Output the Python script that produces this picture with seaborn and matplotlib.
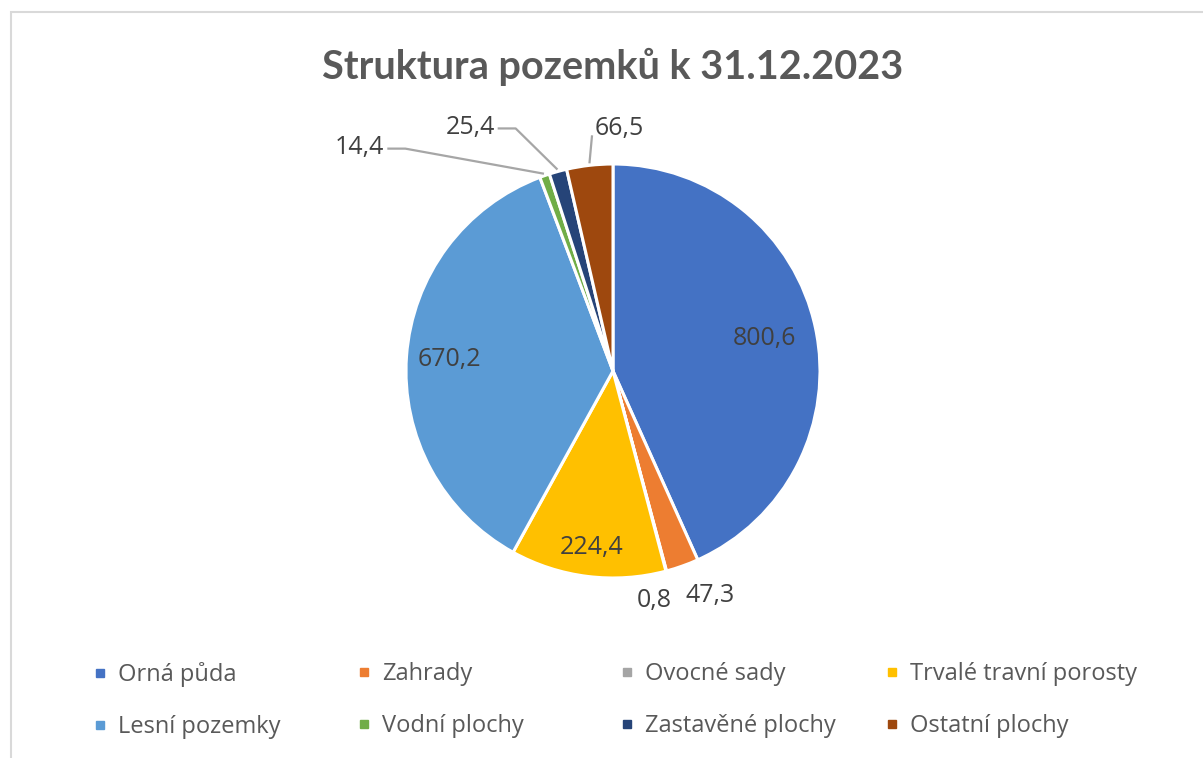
import numpy as np
import matplotlib
matplotlib.use("Agg")
import matplotlib.pyplot as plt
from matplotlib.lines import Line2D
from matplotlib.patches import Rectangle
import seaborn as sns

# ---------------- data ----------------
title = "Struktura pozemků k 31.12.2023"
categories = ["Orná půda", "Zahrady", "Ovocné sady", "Trvalé travní porosty",
              "Lesní pozemky", "Vodní plochy", "Zastavěné plochy", "Ostatní plochy"]
values = [800.6, 47.3, 0.8, 224.4, 670.2, 14.4, 25.4, 66.5]
value_labels = ["800,6", "47,3", "0,8", "224,4", "670,2", "14,4", "25,4", "66,5"]

# ---------------- style ----------------
colors = sns.color_palette(["#4472C4", "#ED7D31", "#A5A5A5", "#FFC000",
                            "#5B9BD5", "#70AD47", "#264478", "#9E480E"])
# label placement: ("in", fraction of radius) or ("out"/"lead"/"lead_up", text offset from slice edge in px)
label_style = [("in", 0.75), ("out", (28, -29)), ("out", (-12, -29)), ("in", 0.86),
               ("in", 0.79), ("lead", (-185, 28)), ("lead", (-88, 44)), ("lead_up", (30, 37))]

sns.set_theme(style="white")
plt.rcParams['font.family'] = ['Open Sans', 'DejaVu Sans']

W, H = 1203, 758
fig = plt.figure(figsize=(W / 100, H / 100), dpi=100)
ax = fig.add_axes([0, 0, 1, 1])
cx, cy, R = 613, H - 371, 207

wedges, _ = ax.pie(values, colors=colors, startangle=90, counterclock=False,
                   center=(cx, cy), radius=R,
                   wedgeprops=dict(edgecolor='white', linewidth=2.2))
ax.set_xlim(0, W)
ax.set_ylim(0, H)
ax.set_aspect('equal')
ax.axis('off')

# chart frame
ax.add_patch(Rectangle((11, -50), W + 100, H - 12 + 50, fill=False,
                       edgecolor='#D9D9D9', linewidth=1.5, zorder=0))

# title
ax.text(cx, H - 79, title, ha='center', va='baseline', fontsize=28.5,
        fontweight='bold', color='#595959', family=['Lato', 'DejaVu Sans'])

label_color = '#404040'
lead_color = '#A6A6A6'
fs_lab = 18
fig.canvas.draw()
renderer = fig.canvas.get_renderer()
for w, lab, st in zip(wedges, value_labels, label_style):
    mid = np.deg2rad((w.theta1 + w.theta2) / 2)
    ux, uy = np.cos(mid), np.sin(mid)
    ex, ey = cx + R * ux, cy + R * uy
    if st[0] == "in":
        f = st[1]
        ax.text(cx + f * R * ux, cy + f * R * uy, lab, ha='center', va='center',
                fontsize=fs_lab, color=label_color)
        continue
    dx, dy = st[1]
    tx, ty = ex + dx, ey + dy
    t = ax.text(tx, ty, lab, ha='center', va='center', fontsize=fs_lab, color=label_color)
    if st[0] == "out":
        continue
    bb = t.get_window_extent(renderer)
    hw = bb.width / 2
    lx, ly = cx + (R + 2) * ux, cy + (R + 2) * uy
    if st[0] == "lead":
        xs = [tx + hw + 3, tx + hw + 21, lx]
        ys = [ty - 1, ty - 1, ly]
    else:
        xs = [tx - hw - 3, lx]
        ys = [ty - 7, ly]
    ax.plot(xs, ys, color=lead_color, linewidth=1.6, solid_capstyle='butt')

# legend (4 equal-width columns, 2 rows)
handles = [Line2D([], [], marker='s', linestyle='', markersize=6, color=c) for c in colors]
col_text_x = [118, 382, 645, 910]
fs_leg = 17
fs_px = fs_leg / 72 * 100
for j, x in enumerate(col_text_x):
    idx = [j, j + 4]
    leg = fig.legend([handles[i] for i in idx], [categories[i] for i in idx],
                     loc='upper left', bbox_to_anchor=((x - fs_px) / W, 1 - 662 / H),
                     frameon=False, fontsize=fs_leg, handlelength=0.5,
                     handletextpad=0.5, labelspacing=1.2, borderpad=0,
                     borderaxespad=0, labelcolor='#595959')

fig.savefig("out.png", dpi=100)
